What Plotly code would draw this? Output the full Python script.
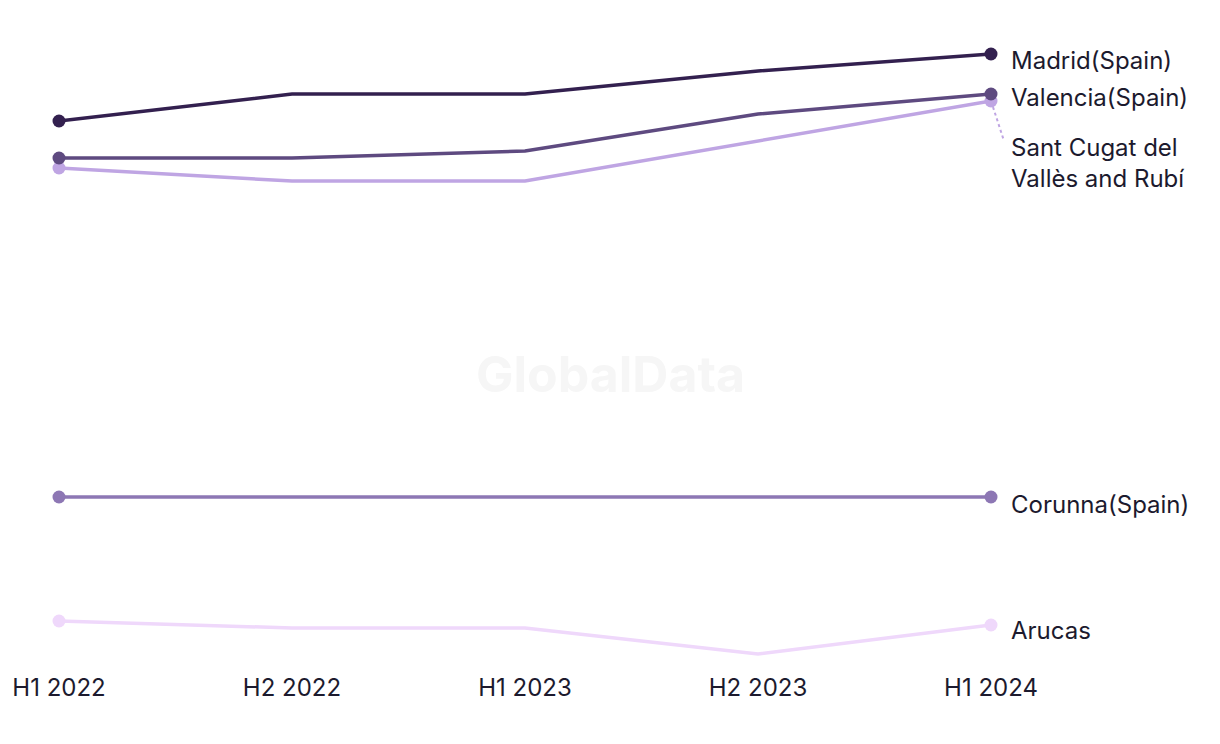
import plotly.graph_objects as go

periods = ["H1 2022", "H2 2022", "H1 2023", "H2 2023", "H1 2024"]
madrid = [58.0, 60.7, 60.7, 63.0, 64.7]
valencia = [54.3, 54.3, 55.0, 58.7, 60.7]
sant_cugat = [53.3, 52.0, 52.0, 56.0, 60.0]
corunna = [20.4, 20.4, 20.4, 20.4, 20.4]
arucas = [8.0, 7.3, 7.3, 4.7, 7.6]

series = [
    ("Madrid(Spain)", madrid, "#33204f"),
    ("Valencia(Spain)", valencia, "#5e4a80"),
    ("Sant Cugat del<br>Vallès and Rubí", sant_cugat, "#bfa5e3"),
    ("Corunna(Spain)", corunna, "#8d77b4"),
    ("Arucas", arucas, "#efd8fb"),
]
label_offsets = {"Madrid(Spain)": -6, "Valencia(Spain)": -3, "Sant Cugat del<br>Vallès and Rubí": -62,
                 "Corunna(Spain)": -7, "Arucas": -5}

FONT = "Inter, Roboto, sans-serif"
xs = list(range(len(periods)))
fig = go.Figure()
for name, vals, col in reversed(series):
    fig.add_trace(go.Scatter(
        x=xs, y=vals, mode="lines", line=dict(color=col, width=3.5),
        showlegend=False, hoverinfo="skip", cliponaxis=False))
    fig.add_trace(go.Scatter(
        x=[xs[0], xs[-1]], y=[vals[0], vals[-1]], mode="markers",
        marker=dict(color=col, size=13), showlegend=False, cliponaxis=False))
    fig.add_annotation(x=xs[-1], y=vals[-1], xref="x", yref="y", text=name,
                       showarrow=False, xanchor="left", yanchor="middle", align="left",
                       xshift=18, yshift=label_offsets[name],
                       font=dict(family=FONT, size=24, color="#1c1a2e"))

# dotted leader for Sant Cugat
fig.add_shape(type="line", xref="paper", yref="y", xsizemode="pixel", ysizemode="pixel",
              xanchor=1, yanchor=sant_cugat[-1], x0=2, x1=13, y0=-6, y1=-40,
              line=dict(color="#bfa5e3", width=2, dash="dot"), layer="above")

fig.add_annotation(x=0.592, y=0.471, xref="paper", yref="paper", text="<b>GlobalData</b>",
                   showarrow=False, font=dict(family=FONT, size=50, color="#f6f6f6"))

fig.update_layout(
    width=1220, height=744,
    margin=dict(l=51, r=237, t=33, b=81, autoexpand=False),
    paper_bgcolor="white", plot_bgcolor="white",
    xaxis=dict(range=[0, 4], tickmode="array", tickvals=xs, ticktext=periods, automargin=False,
               showgrid=False, zeroline=False, showline=False, ticks="",
               tickfont=dict(family=FONT, size=24, color="#1c1a2e")),
    yaxis=dict(range=[3, 66], visible=False, showgrid=False, zeroline=False, automargin=False),
)
fig.write_html("out.html")
